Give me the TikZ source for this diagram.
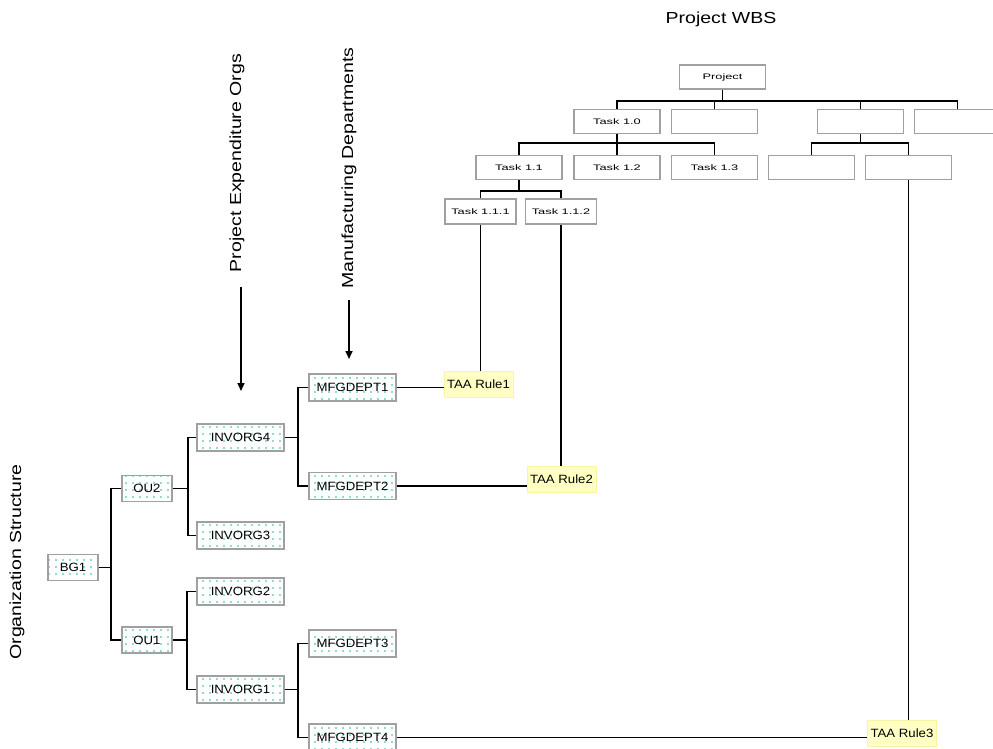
\documentclass[tikz,border=0pt]{standalone}
\usepackage{fontspec}
\setmainfont{Liberation Sans}
\usepackage{graphicx}
\usetikzlibrary{patterns.meta,arrows.meta,calc}
\definecolor{dotc}{RGB}{30,190,150}
\definecolor{boxgray}{RGB}{160,160,160}
\definecolor{taafill}{RGB}{255,255,195}
\definecolor{taadraw}{RGB}{250,245,165}
\newcommand{\orgtxt}[1]{\fontsize{12}{13}\selectfont\scalebox{1.1}[1]{#1}}
\newcommand{\wbstxt}[1]{\fontsize{8}{9}\selectfont\scalebox{1.6}[1]{#1}}
\newcommand{\bigtxt}[1]{\fontsize{16}{18}\selectfont\scalebox{1.22}[1]{#1}}
\tikzset{
  basebox/.style={draw=boxgray, line width=1.5pt, inner sep=0pt},
  orgbox/.style={basebox, preaction={fill=white},
    pattern={Dots[distance=7pt, radius=0.85pt]}, pattern color=dotc,
    minimum width=87pt, minimum height=27pt},
  oubox/.style={orgbox, minimum width=50pt, minimum height=26pt},
  wbsbox/.style={basebox, fill=white, minimum width=86pt, minimum height=24pt},
  smallbox/.style={basebox, fill=white, minimum width=71pt, minimum height=25pt},
  taabox/.style={fill=taafill, draw=taadraw, line width=1pt, inner sep=0pt,
    minimum width=69pt, minimum height=26pt},
  conn/.style={draw=black, line width=1.6pt},
  vlabel/.style={rotate=90, inner sep=0pt},
  downarrow/.style={conn, -{Triangle[width=7pt,length=8pt]}}
}
\begin{document}
\begin{tikzpicture}[x=1pt,y=-1pt]
\useasboundingbox (0,0) rectangle (993,749);
\clip (0,0) rectangle (993,749);
\fill[white] (0,0) rectangle (993,749);

% ---------- labels ----------
\node[inner sep=0pt] (wbstitle) at (721,19) {\bigtxt{Project WBS}};
\node[vlabel] (lblpeo) at (237,163) {\bigtxt{Project Expenditure Orgs}};
\node[vlabel] (lblmfg) at (349,168) {\bigtxt{Manufacturing Departments}};
\node[vlabel] (lblorg) at (17,562) {\bigtxt{Organization Structure}};

\coordinate (a1s) at (241,287);
\coordinate (a1e) at (241,391);
\coordinate (a2s) at (349,300);
\coordinate (a2e) at (349,359);
\draw[downarrow] (a1s) -- (a1e);
\draw[downarrow] (a2s) -- (a2e);

% ---------- WBS ----------
\node[wbsbox] (project) at (722.5,77) {\wbstxt{Project}};
\node[wbsbox] (t10) at (617,121.5) {\wbstxt{Task 1.0}};
\node[wbsbox] (b2) at (714.5,121.5) {};
\node[wbsbox] (b3) at (860.5,121.5) {};
\node[wbsbox] (b4) at (957.5,121.5) {};
\node[wbsbox] (t11) at (519,167.5) {\wbstxt{Task 1.1}};
\node[wbsbox] (t12) at (617,167.5) {\wbstxt{Task 1.2}};
\node[wbsbox] (t13) at (714.5,167.5) {\wbstxt{Task 1.3}};
\node[wbsbox] (b5) at (811.5,167.5) {};
\node[wbsbox] (b6) at (908.5,167.5) {};
\node[smallbox] (t111) at (480.5,211.5) {\wbstxt{Task 1.1.1}};
\node[smallbox] (t112) at (561,211.5) {\wbstxt{Task 1.1.2}};

\draw[conn] (project.south) -- ++(0,11) coordinate (pj);
\draw[conn] (pj) -| (t10.north);
\draw[conn] (pj) -| (b2.north);
\draw[conn] (pj) -| (b3.north);
\draw[conn] (pj) -| (b4.north);
\draw[conn] (t10.south) -- ++(0,9) coordinate (tj);
\draw[conn] (tj) -| (t11.north);
\draw[conn] (tj) -| (t12.north);
\draw[conn] (tj) -| (t13.north);
\draw[conn] (b3.south) -- ++(0,9) coordinate (bj);
\draw[conn] (bj) -| (b5.north);
\draw[conn] (bj) -| (b6.north);
\draw[conn] (t11.south) -- ++(0,10.5) coordinate (sj);
\draw[conn] (sj) -| (t111.north);
\draw[conn] (sj) -| (t112.north);

% ---------- TAA rules ----------
\node[taabox] (taa1) at (478.5,384.5) {\orgtxt{TAA Rule1}};
\node[taabox] (taa2) at (561.5,479.5) {\orgtxt{TAA Rule2}};
\node[taabox] (taa3) at (902,733.5) {\orgtxt{TAA Rule3}};

% ---------- Organization ----------
\node[oubox] (bg1) at (73,567.5) {\orgtxt{BG1}};
\node[oubox] (ou2) at (147,488.5) {\orgtxt{OU2}};
\node[oubox] (ou1) at (147,640) {\orgtxt{OU1}};
\node[orgbox] (inv4) at (240.5,437.5) {\orgtxt{INVORG4}};
\node[orgbox] (inv3) at (240.5,535.5) {\orgtxt{INVORG3}};
\node[orgbox] (inv2) at (240.5,591.5) {\orgtxt{INVORG2}};
\node[orgbox] (inv1) at (240.5,689.5) {\orgtxt{INVORG1}};
\node[orgbox] (mfg1) at (352.5,387.5) {\orgtxt{MFGDEPT1}};
\node[orgbox] (mfg2) at (352.5,486) {\orgtxt{MFGDEPT2}};
\node[orgbox] (mfg3) at (352.5,643.5) {\orgtxt{MFGDEPT3}};
\node[orgbox] (mfg4) at (352.5,737.5) {\orgtxt{MFGDEPT4}};

\draw[conn] (bg1.east) -- ++(12,0) coordinate (jb);
\draw[conn] (jb) |- (ou2.west);
\draw[conn] (jb) |- (ou1.west);
\draw[conn] (ou2.east) -- ++(15,0) coordinate (j2);
\draw[conn] (j2) |- (inv4.west);
\draw[conn] (j2) |- (inv3.west);
\draw[conn] (ou1.east) -- ++(14,0) coordinate (j1);
\draw[conn] (j1) |- (inv2.west);
\draw[conn] (j1) |- (inv1.west);
\draw[conn] (inv4.east) -- ++(13,0) coordinate (j4);
\draw[conn] (j4) |- (mfg1.west);
\draw[conn] (j4) |- (mfg2.west);
\draw[conn] (inv1.east) -- ++(13,0) coordinate (j5);
\draw[conn] (j5) |- (mfg3.west);
\draw[conn] (j5) |- (mfg4.west);

% ---------- links to TAA rules ----------
\draw[conn] (t111.south) -- (t111.south |- taa1.north);
\draw[conn] (t112.south) -- (t112.south |- taa2.north);
\draw[conn] (b6.south) -- (b6.south |- taa3.north);
\draw[conn] (mfg1.east) -- (mfg1.east -| taa1.west);
\draw[conn] (mfg2.east) -- (mfg2.east -| taa2.west);
\draw[conn] (mfg4.east) -- (mfg4.east -| taa3.west);
\end{tikzpicture}
\end{document}
